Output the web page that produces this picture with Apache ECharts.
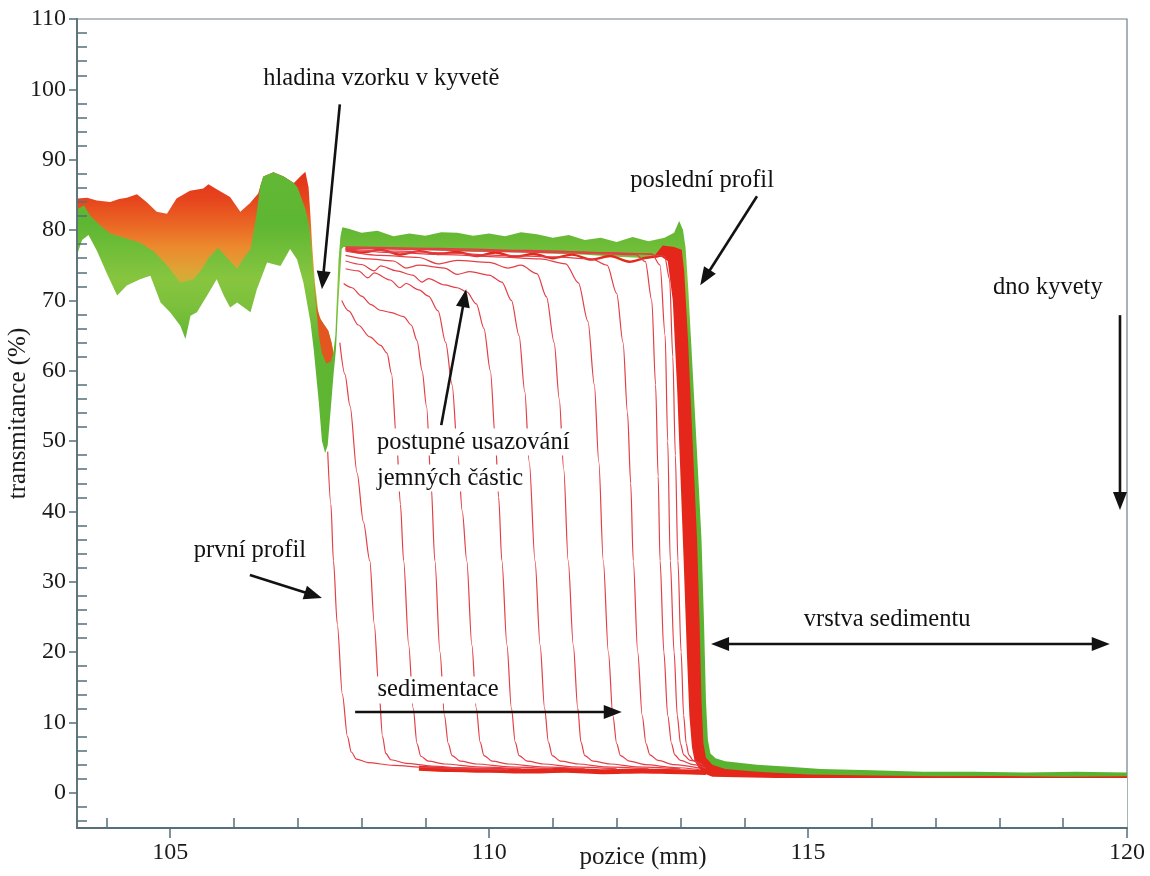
<!DOCTYPE html>
<html>
<head>
<meta charset="utf-8">
<script src="https://cdn.jsdelivr.net/npm/echarts@6/dist/echarts.min.js"></script>
<style>
html,body{margin:0;padding:0;background:#fff;}
#c{width:1150px;height:876px;}
</style>
</head>
<body>
<div id="c"></div>
<script>
// ---------------- DATA ----------------
// axis ticks
const xMajorTicks = [105, 110, 115, 120];
const xMinorTicks = [104, 106, 107, 108, 109, 111, 112, 113, 114, 116, 117, 118, 119];
const yMajorTicks = [0, 10, 20, 30, 40, 50, 60, 70, 80, 90, 100, 110];
const yMinorTicks = [-4, -2, 2, 4, 6, 8, 12, 14, 16, 18, 22, 24, 26, 28, 32, 34, 36, 38, 42, 44, 46, 48,
  52, 54, 56, 58, 62, 64, 66, 68, 72, 74, 76, 78, 82, 84, 86, 88, 92, 94, 96, 98, 102, 104, 106, 108];

// upper edge of the early (red) profiles above the sample surface  [position mm, transmittance %]
const bandTop = [[103.55,84.5],[103.7,84.6],[103.85,84.2],[104.06,84.0],[104.2,84.4],[104.32,84.6],[104.48,85.1],
  [104.63,84.0],[104.79,82.6],[104.95,82.3],[105.1,84.5],[105.31,85.6],[105.52,85.9],[105.6,86.5],[105.73,85.8],
  [105.94,84.7],[106.1,82.6],[106.25,83.8],[106.38,85.2],[106.46,87.6],[106.62,88.2],[106.78,87.6],[106.94,86.7],
  [107.04,87.6],[107.12,88.3],[107.17,86.1],[107.2,82.0],[107.23,77.3],[107.27,72.5],[107.33,67.8],[107.41,66.6],
  [107.48,65.7],[107.53,64.0],[107.56,62.6]];

// reddish pocket on the left wall of the surface dip
const dipPocket = [[107.25,73.0],[107.3,69.0],[107.36,67.3],[107.41,66.6],[107.48,65.7],[107.53,64.0],[107.56,62.6]];

// upper edge of the later (green) profiles, left part
const bandGreenTop = [[103.55,83.0],[103.65,83.5],[103.75,82.0],[103.91,80.6],[104.06,79.5],[104.32,78.8],[104.53,78.2],
  [104.74,77.0],[104.95,75.0],[105.16,72.5],[105.37,73.0],[105.5,74.5],[105.6,76.0],[105.75,77.5],[105.9,76.0],
  [106.05,74.5],[106.15,76.0],[106.26,77.3],[106.35,82.0],[106.41,86.2],[106.46,87.6],[106.62,88.2],[106.78,87.6],
  [106.94,86.7],[107.0,86.0],[107.06,84.5],[107.12,83.0],[107.17,81.0],[107.2,79.0],[107.23,75.5],[107.27,71.0],
  [107.33,65.0],[107.38,62.5],[107.45,61.0],[107.52,61.3],[107.56,62.6],[107.59,65.0],[107.62,71.6],[107.64,75.8],
  [107.67,79.1],[107.7,80.4]];

// last profile (green) from the surface to the cuvette bottom
const finalProfile = [[107.8,80.2],[108.0,79.6],[108.25,79.9],[108.5,79.1],[108.75,79.5],[109.0,79.2],[109.25,79.7],
  [109.5,79.6],[109.75,79.2],[110.0,79.5],[110.25,79.1],[110.5,79.7],[110.75,79.4],[111.0,78.9],[111.25,79.3],
  [111.5,78.6],[111.75,78.9],[112.0,78.3],[112.25,79.0],[112.5,78.4],[112.75,78.9],[112.9,79.6],[112.98,81.3],
  [113.04,80.0],[113.08,77.5],[113.12,72.0],[113.18,62.0],[113.25,50.0],[113.33,36.0],[113.37,24.0],[113.4,13.0],
  [113.43,7.5],[113.47,5.6],[113.55,4.9],[113.7,4.5],[114.2,4.0],[114.7,3.7],[115.2,3.4],[116.0,3.2],[116.8,3.0],
  [117.6,3.0],[118.4,2.9],[119.2,3.0],[120.0,2.9]];

// dense bundle of the late red profiles (right edge)
const lateRedEdge = [[112.6,76.4],[112.72,77.8],[112.9,77.6],[113.02,77.2],[113.06,74.0],[113.12,64.0],[113.19,50.0],
  [113.26,36.0],[113.3,24.0],[113.33,13.0],[113.36,7.0],[113.4,5.0],[113.5,4.0],[113.7,3.4],[114.2,3.0],[115.0,2.6],
  [116.0,2.45],[117.0,2.35],[118.0,2.4],[119.0,2.3],[120.0,2.35]];

// lower edge of everything (below it the plot is empty)
const bandBottom = [[103.55,76.7],[103.62,78.6],[103.72,79.3],[103.85,77.1],[104.01,73.8],[104.17,70.7],[104.32,72.1],
  [104.53,73.0],[104.69,73.5],[104.85,69.7],[105.0,68.3],[105.16,66.4],[105.24,64.5],[105.32,67.8],[105.42,68.3],
  [105.58,70.7],[105.73,73.0],[105.84,70.7],[105.94,69.0],[106.05,69.7],[106.26,68.3],[106.36,71.6],[106.52,75.4],
  [106.73,74.9],[106.88,77.3],[106.99,75.8],[107.09,72.5],[107.2,66.9],[107.25,63.1],[107.33,55.6],[107.38,50.0],
  [107.43,48.3],[107.47,49.4],[107.51,53.7],[107.56,59.3],[107.6,63.1],[107.64,70.2],[107.69,77.3]];
const plateauBottom = [[107.72,77.6],[108.5,77.3],[109.5,77.0],[110.5,76.8],[111.5,76.5],[112.0,76.2],[112.5,76.0],[112.7,76.2]];
const sedimentEdge = [[112.8,75.6],[112.88,70.0],[112.95,57.0],[113.0,45.0],[113.05,33.0],[113.1,20.0],[113.14,11.0],
  [113.18,6.5],[113.22,4.6],[113.28,3.6],[113.36,2.8],[113.5,2.3],[114.5,2.1],[120.0,2.1]];

// jagged red line just under the green top (clear upper zone of the red profiles)
const redTop = [[107.75,77.3],[108.0,76.8],[108.3,77.2],[108.6,76.5],[108.9,77.0],[109.2,76.6],[109.5,76.9],[109.8,76.3],
  [110.1,76.8],[110.4,76.2],[110.7,76.6],[111.0,76.0],[111.3,76.5],[111.6,75.8],[111.9,76.3],[112.2,75.5],[112.5,76.1],[112.8,76.6]];

// sediment floor where the profiles converge
const floorRed = [[108.9,3.5],[109.4,3.3],[110.0,3.2],[110.6,3.1],[111.2,3.2],[111.8,3.0],[112.4,3.1],[113.0,3.0],[113.4,2.9]];

// individual red profiles (first profile ... late profiles)
const profile01 = [[107.47,48.5],[107.52,41],[107.56,33],[107.62,24],[107.7,14],[107.78,8],[107.84,5.8],[107.92,4.8],[108.1,4.3],[108.5,3.9],[109.0,3.6],[109.6,3.4],[110.2,3.3]];
const profile02 = [[107.66,64],[107.74,59.5],[107.82,55],[107.93,45.5],[108.03,38.5],[108.13,33],[108.2,24],[108.27,15],[108.33,8],[108.38,5.6],[108.46,4.7],[108.7,4.2],[109.1,3.8],[109.6,3.5],[110.3,3.3]];
const profile03 = [[107.69,70],[107.8,68.5],[107.95,66.5],[108.13,64.8],[108.3,63.6],[108.4,62.5],[108.47,59.6],[108.55,50],[108.61,41],[108.66,33],[108.74,21],[108.81,12],[108.87,7],[108.93,5.2],[109.05,4.5],[109.3,4.1],[109.8,3.7],[110.5,3.4]];
const profile04 = [[107.72,72.4],[107.85,71.8],[108.0,70.6],[108.15,69.4],[108.29,68.6],[108.45,68.3],[108.66,67.7],[108.78,66.5],[108.87,64.3],[108.95,60],[109.02,54.9],[109.09,44],[109.15,33],[109.23,20],[109.3,11],[109.36,7],[109.42,5.3],[109.55,4.5],[109.8,4.1],[110.3,3.7],[111.0,3.4]];
const profile05 = [[107.75,74.5],[107.95,74.2],[108.1,73.2],[108.2,73.9],[108.45,72.9],[108.6,71.8],[108.7,72.4],[108.9,71.5],[109.05,70.6],[109.2,68.5],[109.32,64],[109.42,58],[109.51,48],[109.58,40],[109.65,33],[109.73,21],[109.8,12],[109.86,7.2],[109.92,5.3],[110.05,4.5],[110.3,4.1],[110.8,3.7],[111.5,3.4]];
const profile06 = [[107.75,75.6],[108.0,75.1],[108.2,74.2],[108.3,74.9],[108.55,74.2],[108.8,73.6],[108.95,72.6],[109.05,73.1],[109.3,72.2],[109.5,71.8],[109.65,71.2],[109.8,69.5],[109.92,66],[110.02,60],[110.1,50],[110.15,42],[110.2,33],[110.28,21],[110.35,12],[110.41,7.2],[110.47,5.3],[110.6,4.5],[110.85,4.1],[111.3,3.7],[112.0,3.4]];
const profile07 = [[107.75,76.4],[108.1,75.9],[108.5,75.6],[108.7,74.6],[108.9,75.0],[109.3,74.6],[109.5,73.7],[109.7,74.1],[110.0,73.6],[110.2,72.6],[110.35,70],[110.47,65],[110.56,57],[110.63,47],[110.72,33],[110.8,21],[110.87,12],[110.93,7.2],[110.99,5.3],[111.12,4.5],[111.4,4.1],[111.8,3.7],[112.5,3.4]];
const profile08 = [[107.75,77],[108.3,76.4],[108.9,76.1],[109.2,75.2],[109.5,75.7],[110.0,75.4],[110.3,74.6],[110.5,75.0],[110.75,73.8],[110.9,70.5],[111.02,64],[111.1,56],[111.17,46],[111.24,33],[111.32,21],[111.39,12],[111.44,7.2],[111.5,5.3],[111.63,4.5],[111.9,4.1],[112.3,3.7],[113.0,3.4]];
const profile09 = [[107.75,77.2],[108.5,76.8],[109.3,76.5],[110.1,76.2],[110.8,75.9],[111.2,75.2],[111.4,72.5],[111.55,67],[111.65,58],[111.72,47],[111.79,33],[111.87,20],[111.94,11],[112.0,7],[112.06,5.3],[112.2,4.5],[112.45,4.0],[112.9,3.6],[113.3,3.3]];
const profile10 = [[107.75,77.3],[108.6,77],[109.4,76.7],[110.2,76.4],[111.0,76.2],[111.6,75.9],[111.85,75],[112.0,71],[112.1,64],[112.17,54],[112.22,44],[112.26,33],[112.33,20],[112.4,11],[112.46,7],[112.52,5.4],[112.65,4.6],[112.9,4.0],[113.3,3.5]];
const profile11 = [[107.75,77.5],[108.8,77.3],[109.9,77.0],[111.0,76.8],[111.8,76.6],[112.3,76.5],[112.45,75.5],[112.55,70],[112.61,58],[112.65,45],[112.68,33],[112.74,20],[112.8,11],[112.86,7],[112.91,5.4],[113.0,4.6],[113.2,4.0],[113.4,3.5]];
const profile12 = [[107.75,77.6],[109.2,77.4],[110.6,77.1],[111.9,76.8],[112.55,76.6],[112.68,75],[112.76,65],[112.8,50],[112.84,33],[112.9,20],[112.95,11],[113.0,7],[113.05,5.4],[113.15,4.6],[113.35,4.0]];
const profile13 = [[107.75,77.4],[109.5,77.2],[111.2,76.9],[112.4,76.6],[112.75,76.3],[112.83,73],[112.88,62],[112.92,48],[112.96,33],[113.01,20],[113.05,11],[113.09,7],[113.13,5.4],[113.2,4.6],[113.3,4.0]];

// ---------------- ANNOTATIONS (data coordinates) ----------------
const noteTexts   = ['hladina vzorku v kyvetě', 'poslední profil', 'dno kyvety', 'postupné usazování', 'jemných částic', 'první profil', 'vrstva sedimentu', 'sedimentace'];
const noteAnchors = [[108.31,101.56],[113.34,87.07],[118.76,71.88],[108.21,49.86],[108.21,44.74],[106.25,34.5],[116.24,24.57],[109.2,14.63]];
const noteAlign   = ['center','center','center','left','left','center','center','center'];
const noteBoxed   = [false,false,false,true,true,false,false,true];
const arrowFrom = [[107.66,97.87],[114.2,84.8],[119.89,67.9],[109.25,52.27],[106.25,30.97],[113.48,21.16],[107.9,11.5]];
const arrowTo   = [[107.38,71.59],[113.31,72.16],[119.89,40.2],[109.64,71.59],[107.38,27.7],[119.73,21.16],[112.08,11.5]];
const arrowBoth = [false,false,false,false,false,true,false];

// ---------------- CHART ----------------
const X_MIN = 103.54, X_MAX = 120, Y_MIN = -5, Y_MAX = 110;
const SERIF = '"Liberation Serif", "Times New Roman", serif';
const AXIS_COLOR = '#566f78';

function gradByValue(stops, topVal, bottomVal) {
  return new echarts.graphic.LinearGradient(0, 0, 0, 1, stops.map(function (s) {
    return { offset: Math.min(1, Math.max(0, (topVal - s[0]) / (topVal - bottomVal))), color: s[1] };
  }));
}
function maxY(arr) { return Math.max.apply(null, arr.map(function (p) { return p[1]; })); }

const topGrad = gradByValue([[88.3,'#e2301b'],[84.5,'#e6441d'],[81,'#ea6424'],[77.5,'#ec8a2e'],[74,'#dca636'],[70.5,'#b5bd3b'],[66,'#8cc43e'],[-5,'#6cbb36']], maxY(bandTop), Y_MIN);
const greenAll = bandGreenTop.concat(finalProfile);
const greenGrad = gradByValue([[88.3,'#62b834'],[81,'#5db632'],[77,'#72be39'],[73,'#88c53f'],[69,'#7bc03b'],[64,'#5fb632'],[-5,'#58b230']], maxY(greenAll), Y_MIN);
const whiteCover = bandBottom.concat(plateauBottom, sedimentEdge);

function area(name, data, color, z) {
  return { type: 'line', name: name, data: data, xAxisIndex: 0, yAxisIndex: 0, symbol: 'none', showSymbol: false,
    lineStyle: { width: 0, opacity: 0 }, areaStyle: { color: color, opacity: 1, origin: 'start' }, z: z, silent: true };
}
function thin(name, data, color, width, z) {
  return { type: 'line', name: name, data: data, xAxisIndex: 0, yAxisIndex: 0, symbol: 'none', showSymbol: false,
    smooth: 0.3, smoothMonotone: 'x', lineStyle: { color: color, width: width }, z: z, silent: true };
}
const profiles = [profile01, profile02, profile03, profile04, profile05, profile06, profile07, profile08, profile09, profile10, profile11, profile12, profile13];

const series = [
  area('early profiles', bandTop, topGrad, 2),
  area('dip pocket', dipPocket, '#e4561f', 3),
  area('late profiles', greenAll, greenGrad, 4),
  area('late red bundle', lateRedEdge, '#e5261a', 5),
  area('empty', whiteCover, '#ffffff', 6),
  thin('upper zone', redTop, '#e3281c', 2.4, 7),
  thin('floor', floorRed, '#e5261a', 5, 7)
];
profiles.forEach(function (p, i) { series.push(thin('profile ' + (i + 1), p, '#e33f46', 1.2, 8)); });

const chart = echarts.init(document.getElementById('c'), null, { renderer: 'canvas' });
chart.setOption({
  animation: false,
  backgroundColor: '#ffffff',
  grid: { left: 77, right: 23, top: 19, bottom: 48, containLabel: false, outerBoundsMode: 'none',
    show: true, borderColor: '#6f8086', borderWidth: 1.2 },
  xAxis: [
    { type: 'value', gridIndex: 0, position: 'bottom', min: X_MIN, max: X_MAX, z: 10,
      axisLine: { show: true, onZero: false, lineStyle: { color: AXIS_COLOR, width: 1.8 } },
      axisTick: { show: true, customValues: xMajorTicks, inside: false, length: 10, lineStyle: { color: AXIS_COLOR, width: 1.5 } },
      axisLabel: { show: true, customValues: xMajorTicks, margin: 13, color: '#1b1b1b', fontFamily: SERIF, fontSize: 24 },
      splitLine: { show: false },
      name: 'pozice (mm)', nameLocation: 'middle', nameGap: 17, nameMoveOverlap: false,
      nameTextStyle: { fontFamily: SERIF, fontSize: 25, color: '#1b1b1b', padding: [0, 0, 0, 82] } },
    { type: 'value', gridIndex: 0, position: 'bottom', min: X_MIN, max: X_MAX, z: 10,
      axisLine: { show: false, onZero: false },
      axisTick: { show: true, customValues: xMinorTicks, inside: true, length: 10, lineStyle: { color: AXIS_COLOR, width: 1.5 } },
      axisLabel: { show: false }, splitLine: { show: false } }
  ],
  yAxis: [
    { type: 'value', gridIndex: 0, position: 'left', min: Y_MIN, max: Y_MAX, z: 10,
      axisLine: { show: true, onZero: false, lineStyle: { color: AXIS_COLOR, width: 1.8 } },
      axisTick: { show: true, customValues: yMajorTicks, inside: false, length: 8, lineStyle: { color: AXIS_COLOR, width: 1.5 } },
      axisLabel: { show: true, customValues: yMajorTicks, margin: 11, color: '#1b1b1b', fontFamily: SERIF, fontSize: 24 },
      splitLine: { show: false },
      name: 'transmitance (%)', nameLocation: 'middle', nameRotate: 90, nameGap: 46, nameMoveOverlap: false,
      nameTextStyle: { fontFamily: SERIF, fontSize: 25, color: '#1b1b1b', padding: [0, 0, 0, 20] } },
    { type: 'value', gridIndex: 0, position: 'left', min: Y_MIN, max: Y_MAX, z: 10,
      axisLine: { show: false, onZero: false },
      axisTick: { show: true, customValues: yMinorTicks, inside: true, length: 10, lineStyle: { color: AXIS_COLOR, width: 1.5 } },
      axisLabel: { show: false }, splitLine: { show: false } }
  ],
  series: series
});

// annotations: arrows and texts placed through the axes' own scales
function toPx(p) { return chart.convertToPixel({ seriesIndex: 0 }, p); }
const graphics = [];
const HEAD_L = 18, HEAD_W = 14, INK = '#121212';
function head(tip, dx, dy) {
  const bx = tip[0] - dx * HEAD_L, by = tip[1] - dy * HEAD_L;
  const nx = -dy * HEAD_W / 2, ny = dx * HEAD_W / 2;
  return { type: 'polygon', z: 100, silent: true, shape: { points: [[tip[0], tip[1]], [bx + nx, by + ny], [bx - nx, by - ny]] }, style: { fill: INK } };
}
arrowFrom.forEach(function (from, i) {
  const a = toPx(from), b = toPx(arrowTo[i]);
  const len = Math.hypot(b[0] - a[0], b[1] - a[1]);
  const dx = (b[0] - a[0]) / len, dy = (b[1] - a[1]) / len;
  const start = arrowBoth[i] ? [a[0] + dx * (HEAD_L - 2), a[1] + dy * (HEAD_L - 2)] : a;
  const end = [b[0] - dx * (HEAD_L - 2), b[1] - dy * (HEAD_L - 2)];
  graphics.push({ type: 'line', z: 100, silent: true, shape: { x1: start[0], y1: start[1], x2: end[0], y2: end[1] }, style: { stroke: INK, lineWidth: 2.6 } });
  graphics.push(head(b, dx, dy));
  if (arrowBoth[i]) graphics.push(head(a, -dx, -dy));
});
noteTexts.forEach(function (t, i) {
  const p = toPx(noteAnchors[i]);
  const st = { text: t, font: '24.5px ' + SERIF, fill: INK, align: noteAlign[i], textAlign: noteAlign[i], verticalAlign: 'middle', textVerticalAlign: 'middle' };
  if (noteBoxed[i]) { st.backgroundColor = '#ffffff'; st.padding = [1, 2]; }
  graphics.push({ type: 'text', z: 101, silent: true, x: p[0], y: p[1], style: st });
});
chart.setOption({ graphic: graphics });
</script>
</body>
</html>
